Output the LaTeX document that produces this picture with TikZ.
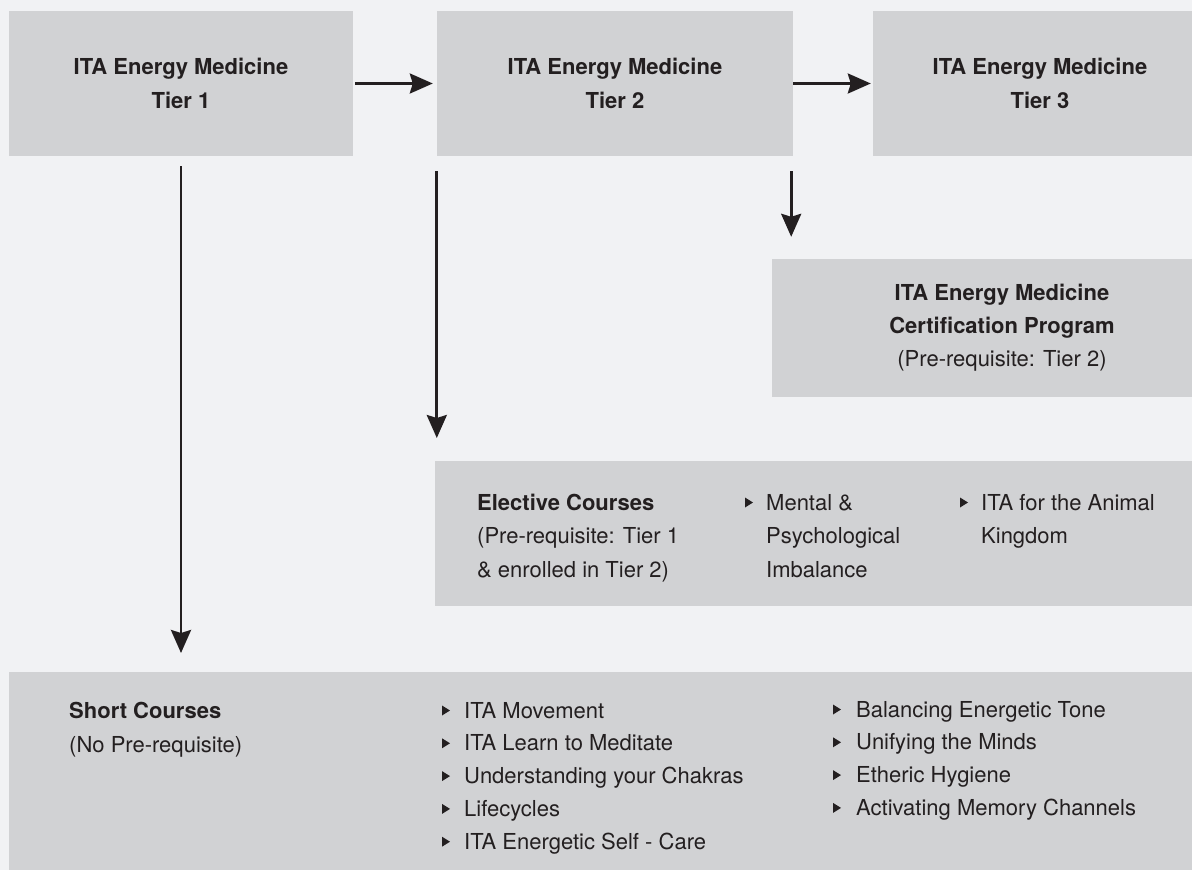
\documentclass[tikz,border=0pt]{standalone}
\usepackage{fontspec}
\setmainfont{TeX Gyre Heros}
\usepackage{tikz}
\usepackage{xcolor}
\usetikzlibrary{arrows.meta,positioning,calc}

\definecolor{bggray}{HTML}{F1F2F4}
\definecolor{boxgray}{HTML}{D1D2D4}
\definecolor{ink}{HTML}{231F20}

\tikzset{
  box/.style={fill=boxgray, inner sep=0pt, align=center, text=ink,
    font=\bfseries\fontsize{22}{34}\selectfont},
  panel/.style={fill=boxgray, inner sep=0pt, anchor=north west},
  item/.style={anchor=base west, inner sep=0pt, text=ink,
    font=\fontsize{22}{33}\selectfont},
  head/.style={item, font=\bfseries\fontsize{22}{33}\selectfont},
  link/.style={draw=ink, line width=2.8pt,
    -{Stealth[length=23pt,width=20pt,inset=3pt]}}
}
% small bullet triangle, left edge #1, baseline #2
\newcommand{\tri}[2]{\fill[ink] (#1,#2-12.5) -- ++(8,5) -- ++(-8,5) -- cycle;}

\begin{document}
\begin{tikzpicture}[x=1pt, y=-1pt]
\useasboundingbox (0,0) rectangle (1192,870);
\clip (0,0) rectangle (1192,870);
\fill[bggray] (0,0) rectangle (1192,870);

% tiers
\node[box, minimum width=344pt, minimum height=145pt] (t1) at (181,83.5) {ITA Energy Medicine\\Tier 1};
\node[box, minimum width=356pt, minimum height=145pt] (t2) at (615,83.5) {ITA Energy Medicine\\Tier 2};
\node[box, minimum width=334pt, minimum height=145pt] (t3) at (1040,83.5) {ITA Energy Medicine\\Tier 3};

% certification
\node[box, minimum width=460pt, minimum height=138pt, font=\fontsize{22}{33}\selectfont] (cert) at (1002,328)
  {\textbf{ITA Energy Medicine}\\\textbf{Certification Program}\\(Pre-requisite: Tier 2)};

% elective courses
\node[panel, minimum width=805pt, minimum height=145pt] (elec) at (435,461) {};
\node[head] (el1) at (477,510) {Elective Courses};
\node[item] (el2) at (477,543) {(Pre-requisite: Tier 1};
\node[item] (el3) at (477,577) {\& enrolled in Tier 2)};
\tri{745}{510}
\node[item] (em1) at (766,510) {Mental \&};
\node[item] (em2) at (766,543) {Psychological};
\node[item] (em3) at (766,577) {Imbalance};
\tri{960}{510}
\node[item] (ea1) at (981,510) {ITA for the Animal};
\node[item] (ea2) at (981,543) {Kingdom};

% short courses
\node[panel, minimum width=1240pt, minimum height=250pt] (short) at (9,672) {};
\node[head] (sh1) at (69,718) {Short Courses};
\node[item] (sh2) at (69,752) {(No Pre-requisite)};
\foreach \txt [count=\i] in {ITA Movement, ITA Learn to Meditate,
    Understanding your Chakras, Lifecycles, ITA Energetic Self - Care}{
  \pgfmathsetmacro\yy{718+32.8*(\i-1)}
  \tri{442}{\yy}
  \node[item] (sa\i) at (464,\yy) {\txt};
}
\foreach \txt [count=\i] in {Balancing Energetic Tone, Unifying the Minds,
    Etheric Hygiene, Activating Memory Channels}{
  \pgfmathsetmacro\yy{717+32.8*(\i-1)}
  \tri{833}{\yy}
  \node[item] (sb\i) at (856,\yy) {\txt};
}

% arrows
\draw[link, shorten <=2pt, shorten >=4pt] (t1.east) -- (t2.west);
\draw[link, shorten >=2pt] (t2.east) -- (t3.west);
\draw[link, shorten <=10pt, shorten >=19pt] (t1.south) -- (t1.south |- short.north);
\draw[link, shorten <=15pt, shorten >=23pt] (t2.south west) -- (t2.south west |- elec.north);
\draw[link, shorten <=15pt, shorten >=22pt] ([xshift=-2pt]t2.south east) -- ([xshift=-2pt]t2.south east |- cert.north);
\end{tikzpicture}
\end{document}
